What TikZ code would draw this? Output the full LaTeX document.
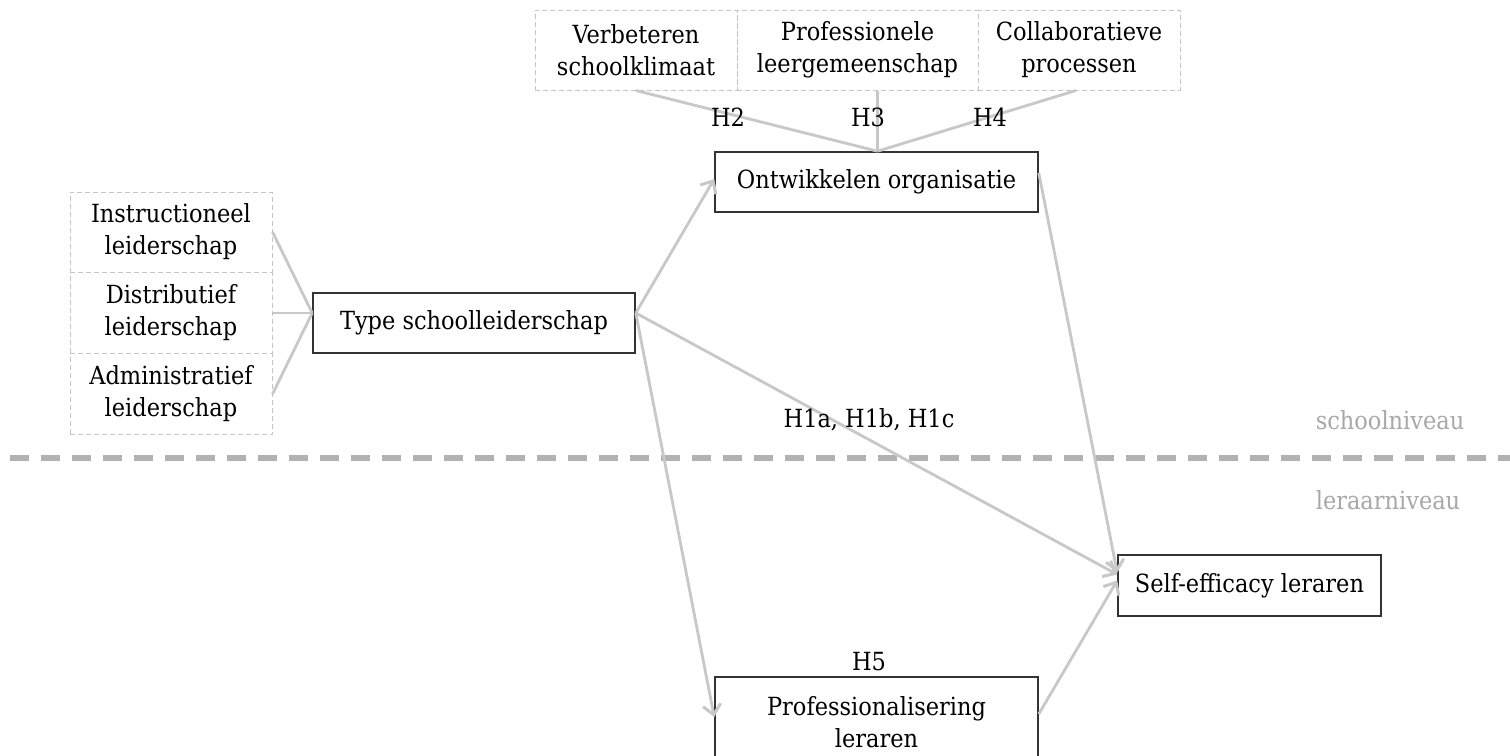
\documentclass[tikz,border=0pt]{standalone}
\usepackage{fontspec}
\setmainfont{DejaVu Serif Condensed}
\usetikzlibrary{arrows.meta}
\definecolor{conn}{HTML}{C8C8C8}
\definecolor{sep}{HTML}{B2B2B2}
\definecolor{dbox}{HTML}{C4C4C4}
\definecolor{sbox}{HTML}{333333}
\definecolor{lvl}{HTML}{A8A8A8}
\tikzset{
  txt/.style={font=\fontsize{25}{32}\selectfont, align=center, inner sep=0pt},
  dashbox/.style={txt, draw=dbox, line width=1pt, dash pattern=on 5pt off 3pt, rectangle},
  solidbox/.style={txt, draw=sbox, line width=1.6pt, rectangle},
  link/.style={draw=conn, line width=2.8pt},
  arrowlink/.style={link, -{Straight Barb[length=10pt,width=18pt,line width=3pt]}},
  lab/.style={txt},
  level/.style={txt, text=lvl}
}
\begin{document}
\begin{tikzpicture}[x=1pt,y=-1pt]
\path[use as bounding box, clip] (0,0) rectangle (1510,755);
\fill[white] (0,0) rectangle (1510,755);
% top dashed boxes
\node[dashbox, minimum width=202pt, minimum height=80pt] (t1) at (636,50) {Verbeteren\\schoolklimaat};
\node[dashbox, minimum width=241pt, minimum height=80pt] (t2) at (857.5,50) {Professionele\\leergemeenschap};
\node[dashbox, minimum width=202pt, minimum height=80pt] (t3) at (1079,50) {Collaboratieve\\processen};
% left dashed boxes
\node[dashbox, minimum width=202pt, minimum height=80pt] (l1) at (171,232) {Instructioneel\\leiderschap};
\node[dashbox, minimum width=202pt, minimum height=81pt] (l2) at (171,313) {Distributief\\leiderschap};
\node[dashbox, minimum width=202pt, minimum height=81pt] (l3) at (171,394) {Administratief\\leiderschap};
% main boxes
\node[solidbox, minimum width=322pt, minimum height=60pt] (type) at (474,323) {Type schoolleiderschap};
\node[solidbox, minimum width=323pt, minimum height=60pt] (org) at (876.5,182) {Ontwikkelen organisatie};
\node[solidbox, minimum width=263pt, minimum height=61pt] (self) at (1249.5,585.5) {Self-efficacy leraren};
\node[solidbox, minimum width=323pt, minimum height=90pt] (prof) at (876.5,722) {Professionalisering\\leraren};
% separator
\draw[sep, line width=6pt, dash pattern=on 19pt off 12pt] (10,458) coordinate (sepL) -- (1510,458) coordinate (sepR);
\node[level] (school) at (1390,420) {schoolniveau};
\node[level] (leraar) at (1388,500) {leraarniveau};
% connectors top
\coordinate (orgtop) at ([xshift=1pt]org.north);
\path[link] (t1.south) -- (orgtop);
\path[link] (t2.south -| orgtop) -- (orgtop);
\path[link] ([xshift=-3pt]t3.south) -- (orgtop);
% connectors left
\coordinate (typein) at ([yshift=10pt]type.west);
\path[link] (l1.east) -- (typein);
\path[link] (l2.east) -- (typein);
\path[link] (l3.east) -- (typein);
% arrows
\coordinate (typeout) at ([yshift=10pt]type.east);
\path[arrowlink] (typeout) -- ([yshift=3pt]org.west);
\path[arrowlink] (typeout) -- ([yshift=11pt]self.west);
\path[arrowlink] (typeout) -- ([yshift=5pt]prof.west);
\path[arrowlink] ([yshift=9pt]org.east) -- ([yshift=13pt]self.west);
\path[arrowlink] ([yshift=8pt]prof.east) -- ([yshift=5pt]self.west);
% labels
\node[lab] (h2) at (728,117) {H2};
\node[lab] (h3) at (868,117) {H3};
\node[lab] (h4) at (990,117) {H4};
\node[lab] (h1) at (869,420) {H1a, H1b, H1c};
\node[lab] (h5) at (869,662) {H5};
\end{tikzpicture}
\end{document}
